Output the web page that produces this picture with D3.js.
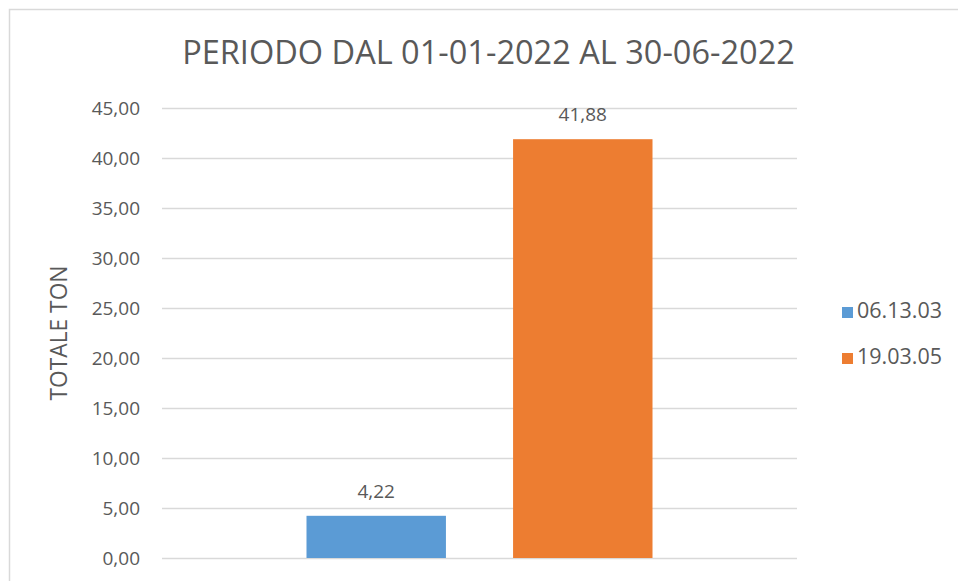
<!DOCTYPE html>
<html>
<head>
<meta charset="utf-8">
<script src="https://cdn.jsdelivr.net/npm/d3@7"></script>
<style>
  html, body { margin: 0; padding: 0; background: #fff; }
  svg { display: block; }
  text { font-family: "Open Sans", "Noto Sans", sans-serif; fill: #595959; }
</style>
</head>
<body>
<svg id="chart" width="958" height="581"></svg>
<script>
// ---- data ----
const titleText = "PERIODO DAL 01-01-2022 AL 30-06-2022";
const yAxisTitle = "TOTALE TON";
const categories = [""];
const seriesNames = ["06.13.03", "19.03.05"];
const seriesValues = [4.22, 41.88];
const seriesColors = ["#5B9BD5", "#ED7D31"];
const yTicks = [0, 5, 10, 15, 20, 25, 30, 35, 40, 45];

const fmt = v => d3.format(".2f")(v).replace(".", ",");

const svg = d3.select("#chart");
const W = 958, H = 581;

// chart area border
svg.append("rect")
  .attr("x", 9.5).attr("y", 9.5)
  .attr("width", W + 10).attr("height", H + 10)
  .attr("fill", "#fff").attr("stroke", "#d9d9d9").attr("stroke-width", 1.5);

const plot = { left: 162, right: 797, top: 108, bottom: 558 };

const y = d3.scaleLinear().domain([0, 45]).range([plot.bottom, plot.top]);
const x0 = d3.scaleBand().domain(categories).range([plot.left, plot.right])
  .paddingInner(0).paddingOuter(0.4176);
const x1 = d3.scaleBand().domain(seriesNames).range([0, x0.bandwidth()])
  .paddingInner(0.325).paddingOuter(0);

// gridlines + tick labels via axis
const yAxis = d3.axisLeft(y).tickValues(yTicks).tickFormat(fmt)
  .tickSize(-(plot.right - plot.left)).tickPadding(22);
const gy = svg.append("g").attr("transform", `translate(${plot.left},0)`).call(yAxis);
gy.select(".domain").remove();
gy.selectAll(".tick line").attr("stroke", "#d9d9d9").attr("stroke-width", 1.5);
gy.selectAll(".tick text")
  .attr("font-size", 19).attr("fill", "#595959")
  .style("font-family", '"Open Sans", "Noto Sans", sans-serif');

// bars
const groups = svg.append("g").selectAll("g").data(categories).join("g")
  .attr("transform", d => `translate(${x0(d)},0)`);
const barData = seriesNames.map((s, i) => ({ s, v: seriesValues[i], c: seriesColors[i] }));
groups.selectAll("rect").data(barData).join("rect")
  .attr("x", d => x1(d.s))
  .attr("y", d => y(d.v))
  .attr("width", x1.bandwidth())
  .attr("height", d => y(0) - y(d.v))
  .attr("fill", d => d.c);
groups.selectAll("text.lbl").data(barData).join("text")
  .attr("class", "lbl")
  .attr("x", d => x1(d.s) + x1.bandwidth() / 2)
  .attr("y", d => y(d.v) - 18)
  .attr("text-anchor", "middle")
  .attr("font-size", 19)
  .text(d => fmt(d.v));

// title (fitted to width)
const title = svg.append("text")
  .attr("x", (182 + 795) / 2).attr("y", 64)
  .attr("text-anchor", "middle")
  .attr("font-size", 30)
  .text(titleText);
const tw = title.node().getComputedTextLength();
title.attr("font-size", 30 * 613 / tw);

// y axis title
const yt = svg.append("text")
  .attr("transform", `translate(67,${(plot.top + plot.bottom) / 2}) rotate(-90)`)
  .attr("text-anchor", "middle")
  .attr("font-size", 19)
  .text(yAxisTitle);
const yw = yt.node().getComputedTextLength();
yt.attr("font-size", 19 * 135 / yw);

// legend
const legend = svg.append("g").selectAll("g").data(barData).join("g")
  .attr("transform", (d, i) => `translate(842,${307 + i * 46})`);
legend.append("rect").attr("width", 11).attr("height", 11).attr("fill", d => d.c);
legend.append("text").attr("x", 15).attr("y", 11)
  .attr("font-size", 21.5).text(d => d.s);
</script>
</body>
</html>
